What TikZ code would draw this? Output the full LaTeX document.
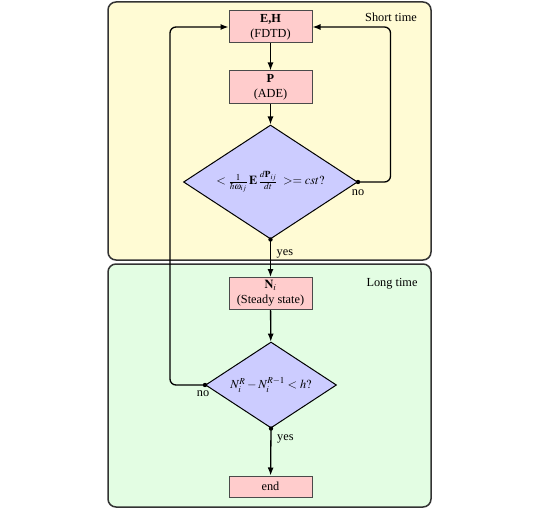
\documentclass[tikz,border=0pt]{standalone}
\usepackage{mathptmx}
\usepackage{fontspec}
\setmainfont{Liberation Serif}
\usetikzlibrary{shapes.geometric,arrows.meta}
\definecolor{shortbg}{HTML}{FFFBD4}
\definecolor{longbg}{HTML}{E3FDE3}
\definecolor{boxpink}{HTML}{FFCCCC}
\definecolor{dia}{HTML}{CCCCFF}
\definecolor{framec}{HTML}{333333}
\definecolor{nodeline}{HTML}{4A4A4A}
\begin{document}
\begin{tikzpicture}[x=1pt,y=-1pt,
  txt/.style={font=\fontsize{12.3}{15}\selectfont},
  proc/.style={txt, rectangle, draw=nodeline, fill=boxpink, line width=1pt, minimum width=83pt, minimum height=32pt, align=center, inner sep=1pt},
  dec/.style={txt, diamond, aspect=1.5, draw=black, fill=dia, line width=1pt, inner sep=0pt},
  flow/.style={-{Latex[length=8pt,width=6pt]}, line width=1.3pt},
  panel/.style={draw=framec, line width=1.5pt, rounded corners=8pt},
  lbl/.style={txt, inner sep=0pt}]
\useasboundingbox (0,0) rectangle (538,519);
\draw[panel, fill=shortbg] (108,2) rectangle (431,260);
\draw[panel, fill=longbg] (108,264) rectangle (431,507);
\node[txt] (st) at (391,17.5) {Short time};
\node[txt] (lt) at (392,284) {Long time};

\node[proc] (eh) at (270.5,27) {\textbf{E,H}\\(FDTD)};
\node[proc] (p) at (270.5,87) {\textbf{P}\\(ADE)};
\node[dec, minimum width=174pt, minimum height=114pt] (d1) at (270.5,182)
  {$<\frac{1}{\hbar\omega_{ij}}\,\mathbf{E}\,\frac{d\mathbf{P}_{ij}}{dt}\;>=cst?$};
\node[proc] (ni) at (270.5,293.5) {$\mathbf{N}_i$\\(Steady state)};
\node[dec, minimum width=131pt, minimum height=86pt] (d2) at (271,385)
  {$N_i^R-N_i^{R-1}<h?$};
\node[proc, minimum height=21pt] (end) at (270.5,486.5) {end};

\coordinate (rc) at (390.5,27);
\coordinate (lc) at (170,27);

\draw[flow] (eh) -- (p);
\draw[flow] (p) -- (d1);
\draw[flow] (d1.south) -- (ni);
\draw[flow] (ni) -- (d2);
\draw[flow] (d2.south) -- (end);
\draw[flow, rounded corners=6pt] (d1.east) -| (rc) -- (eh.east);
\draw[flow, rounded corners=6pt] (d2.west) -| (lc) -- (eh.west);

\fill (d1.east) circle (2.2pt);
\fill (d1.south) circle (2.2pt);
\fill (d2.west) circle (2.2pt);
\fill (d2.south) circle (2.2pt);

\node[lbl, anchor=base] (no1) at ([yshift=-13pt]d1.east) {no};
\node[lbl, anchor=base west] (yes1) at ([xshift=6pt,yshift=-16pt]d1.south) {yes};
\node[lbl, anchor=base] (no2) at ([xshift=-2pt,yshift=-11pt]d2.west) {no};
\node[lbl, anchor=base west] (yes2) at ([xshift=6pt,yshift=-12pt]d2.south) {yes};
\end{tikzpicture}
\end{document}
